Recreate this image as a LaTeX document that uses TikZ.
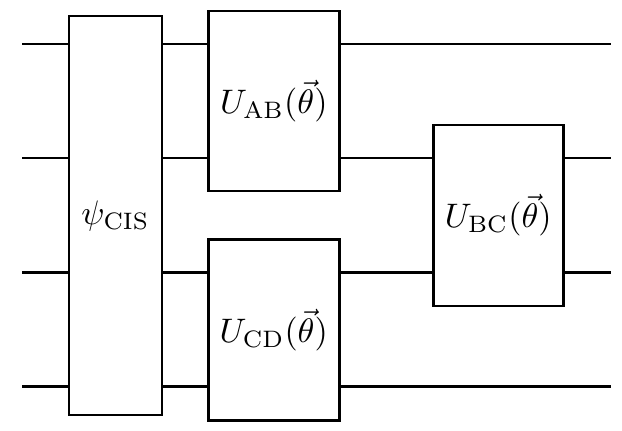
\documentclass[tikz,border=0pt]{standalone}
\begin{document}
\begin{tikzpicture}[x=1pt,y=-1pt,
  gate/.style={draw,fill=white,line width=2.6pt,inner sep=0pt},
  wire/.style={line width=2.6pt}]
\useasboundingbox (0,0) rectangle (622,431);
\newcommand{\gatelabel}[1]{\scalebox{3.4}{$#1$}}
\node[gate,minimum width=93pt,minimum height=399pt] (psi) at (115.5,215.5) {\gatelabel{\psi_{\mathrm{CIS}}}};
\node[gate,minimum width=131pt,minimum height=180pt] (ab) at (273.8,101) {\gatelabel{U_{\mathrm{AB}}(\vec{\theta})}};
\node[gate,minimum width=131pt,minimum height=181pt] (cd) at (273.8,329.8) {\gatelabel{U_{\mathrm{CD}}(\vec{\theta})}};
\node[gate,minimum width=130pt,minimum height=181pt] (bc) at (498.3,215.3) {\gatelabel{U_{\mathrm{BC}}(\vec{\theta})}};
\coordinate (in1) at (22,44);
\coordinate (in2) at (22,158);
\coordinate (in3) at (22,272.5);
\coordinate (in4) at (22,386.5);
\coordinate (out1) at (611,44);
\coordinate (out2) at (611,158);
\coordinate (out3) at (611,272.5);
\coordinate (out4) at (611,386.5);
\foreach \i in {1,2,3,4}{
  \draw[wire] (in\i) -- (psi.west |- in\i);
}
\draw[wire] (psi.east |- in1) -- (ab.west |- in1);
\draw[wire] (psi.east |- in2) -- (ab.west |- in2);
\draw[wire] (psi.east |- in3) -- (cd.west |- in3);
\draw[wire] (psi.east |- in4) -- (cd.west |- in4);
\draw[wire] (ab.east |- out1) -- (out1);
\draw[wire] (ab.east |- out2) -- (bc.west |- out2);
\draw[wire] (cd.east |- out3) -- (bc.west |- out3);
\draw[wire] (cd.east |- out4) -- (out4);
\draw[wire] (bc.east |- out2) -- (out2);
\draw[wire] (bc.east |- out3) -- (out3);
\end{tikzpicture}
\end{document}
